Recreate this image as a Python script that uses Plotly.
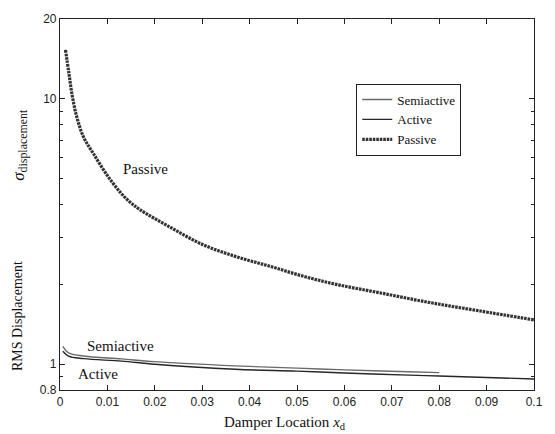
import math
import plotly.graph_objects as go

# ---- data ----
passive_x = [0.00116, 0.00185, 0.00257, 0.0036, 0.0050, 0.0071, 0.0098, 0.0127, 0.0148, 0.0169,
             0.0233, 0.0302, 0.0373, 0.0443, 0.0512, 0.0583, 0.0674, 0.0779, 0.0884, 0.1]
passive_y = [15.3, 12.6, 10.3, 8.48, 7.16, 6.20, 5.20, 4.45, 4.08, 3.82,
             3.28, 2.82, 2.54, 2.34, 2.15, 2.00, 1.86, 1.71, 1.59, 1.47]

semi_x = [0.0006, 0.0018, 0.005, 0.013, 0.02, 0.037, 0.05, 0.06, 0.0736, 0.08]
semi_y = [1.168, 1.104, 1.075, 1.048, 1.023, 0.986, 0.967, 0.953, 0.937, 0.930]

act_x = [0.0006, 0.0018, 0.005, 0.013, 0.02, 0.037, 0.05, 0.06, 0.0736, 0.08, 0.09, 0.1]
act_y = [1.119, 1.073, 1.050, 1.028, 1.000, 0.958, 0.942, 0.927, 0.910, 0.903, 0.892, 0.880]

x_ticks = [0, 0.01, 0.02, 0.03, 0.04, 0.05, 0.06, 0.07, 0.08, 0.09, 0.1]
x_ticktext = ["0", "0.01", "0.02", "0.03", "0.04", "0.05", "0.06", "0.07", "0.08", "0.09", "0.1"]
y_ticks = [0.8, 1, 10, 20]
y_ticktext = ["0.8", "1", "10", "20"]
y_minor = [0.9, 2, 3, 4, 5, 6, 7, 8, 9]

SERIF = "Liberation Serif, Times New Roman, serif"
SANS = "Liberation Sans, Arial, sans-serif"

fig = go.Figure()
fig.add_trace(go.Scatter(x=semi_x, y=semi_y, mode="lines", name="Semiactive",
                         line=dict(color="#6a6a6a", width=1.4, shape="spline")))
fig.add_trace(go.Scatter(x=act_x, y=act_y, mode="lines", name="Active",
                         line=dict(color="#262626", width=1.4, shape="spline")))
fig.add_trace(go.Scatter(x=passive_x, y=passive_y, mode="lines", name="Passive",
                         line=dict(color="#333333", width=3.2, shape="spline", dash="2.6px,0.9px")))

fig.update_layout(
    width=555, height=434,
    margin=dict(l=59.5, r=20, t=12, b=44),
    paper_bgcolor="white", plot_bgcolor="white",
    showlegend=True,
    legend=dict(x=0.625, y=0.826, xanchor="left", yanchor="top",
                bordercolor="#222", borderwidth=1, bgcolor="white",
                font=dict(family=SERIF, size=13, color="#111"),
                itemwidth=30, tracegroupgap=0),
    font=dict(family=SANS, size=12, color="#222"),
)
fig.update_xaxes(range=[0, 0.1], tickvals=x_ticks, ticktext=x_ticktext,
                 ticks="inside", ticklen=5, tickcolor="#222",
                 showline=True, linecolor="#222", linewidth=1.2, mirror="ticks",
                 showgrid=False, zeroline=False,
                 tickfont=dict(family=SANS, size=12, color="#222"))
fig.update_yaxes(type="log", range=[-0.0969, 1.30103],
                 tickvals=y_ticks, ticktext=y_ticktext,
                 ticks="inside", ticklen=5, tickcolor="#222",
                 minor=dict(tickvals=y_minor, ticks="inside", ticklen=3, tickcolor="#222"),
                 showline=True, linecolor="#222", linewidth=1.2, mirror="ticks",
                 showgrid=False, zeroline=False,
                 tickfont=dict(family=SANS, size=12, color="#222"))

ann_font = dict(family=SERIF, size=15, color="#111")
fig.add_annotation(text="Passive", x=0.0180, y=math.log10(5.45), xref="x", yref="y",
                   showarrow=False, font=ann_font)
fig.add_annotation(text="Semiactive", x=0.0128, y=math.log10(1.175), xref="x", yref="y",
                   showarrow=False, font=ann_font)
fig.add_annotation(text="Active", x=0.0081, y=math.log10(0.92), xref="x", yref="y",
                   showarrow=False, font=ann_font)

# axis titles
fig.add_annotation(text="Damper Location <i>x</i><sub>d</sub>", xref="paper", yref="paper",
                   x=0.475, y=-0.088, xanchor="center", yanchor="middle",
                   showarrow=False, font=dict(family=SERIF, size=15, color="#111"))
fig.add_annotation(text="RMS Displacement", xref="paper", yref="paper",
                   x=-0.088, y=0.20, xanchor="center", yanchor="middle", textangle=-90,
                   showarrow=False, font=dict(family=SERIF, size=14, color="#111"))
fig.add_annotation(text="<i>σ</i><sub>displacement</sub>", xref="paper", yref="paper",
                   x=-0.085, y=0.66, xanchor="center", yanchor="middle", textangle=-90,
                   showarrow=False, font=dict(family=SERIF, size=17, color="#111"))

fig.write_html("out.html")
